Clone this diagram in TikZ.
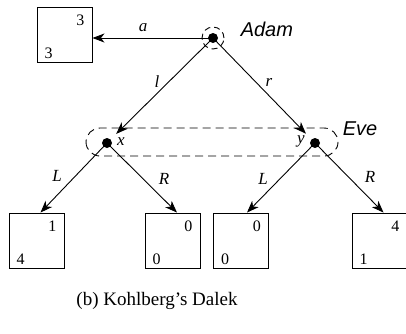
\documentclass[tikz,border=0pt]{standalone}
\usepackage{fontspec}
\setmainfont{Liberation Serif}
\newfontfamily\handfont{Liberation Sans}
\usetikzlibrary{arrows.meta}
\begin{document}
\begin{tikzpicture}[x=1pt,y=-1pt,
  every path/.style={line width=0.9pt},
  payoff/.style={draw,line width=0.9pt,minimum width=55pt,minimum height=55pt,inner sep=0pt},
  dotnode/.style={circle,fill=black,minimum size=10pt,inner sep=0pt},
  edge/.style={-{Stealth[length=12pt,width=9pt,inset=3.5pt]},line width=0.9pt},
  infoset/.style={line width=0.9pt,dash pattern=on 8pt off 5pt},
  lab/.style={font=\fontsize{17}{19}\selectfont\itshape},
  num/.style={font=\fontsize{16}{18}\selectfont},
  pl/.style={font=\fontsize{20}{22}\selectfont\handfont\itshape}]
\useasboundingbox (0,0) rectangle (406,333);
% nodes
\node[dotnode] (adam) at (213,38) {};
\node[dotnode] (x) at (107,143) {};
\node[dotnode] (y) at (315,143) {};
\node[payoff] (b0) at (64.5,35) {};
\node[payoff] (b1) at (36.5,240.5) {};
\node[payoff] (b2) at (172.5,240.5) {};
\node[payoff] (b3) at (241,240.5) {};
\node[payoff] (b4) at (379.5,240.5) {};
% payoffs
\node[num] (b0t) at ([xshift=-12pt,yshift=-13pt]b0.north east) {3};
\node[num] (b0b) at ([xshift=12pt,yshift=10pt]b0.south west) {3};
\node[num] (b1t) at ([xshift=-12pt,yshift=-14pt]b1.north east) {1};
\node[num] (b1b) at ([xshift=12pt,yshift=9pt]b1.south west) {4};
\node[num] (b2t) at ([xshift=-12pt,yshift=-14pt]b2.north east) {0};
\node[num] (b2b) at ([xshift=12pt,yshift=9pt]b2.south west) {0};
\node[num] (b3t) at ([xshift=-12pt,yshift=-14pt]b3.north east) {0};
\node[num] (b3b) at ([xshift=12pt,yshift=9pt]b3.south west) {0};
\node[num] (b4t) at ([xshift=-12pt,yshift=-14pt]b4.north east) {4};
\node[num] (b4b) at ([xshift=12pt,yshift=9pt]b4.south west) {1};
% information sets
\draw[infoset,dash pattern=on 6pt off 4pt] (adam) circle (11pt);
\draw[infoset,rounded corners=14pt] (86,128) rectangle (338,156);
% edges
\draw[edge] (adam.center) -- (b0.east |- adam);
\draw[edge,shorten >=7.5pt] (adam.center) -- (x);
\draw[edge,shorten >=7.5pt] (adam.center) -- (y);
\draw[edge] (x.center) -- ([xshift=4pt]b1.north);
\draw[edge] (x.center) -- ([xshift=4.5pt]b2.north);
\draw[edge] (y.center) -- ([xshift=6pt]b3.north);
\draw[edge] (y.center) -- ([xshift=4pt]b4.north);
% labels
\node[lab] (la) at (143,28) {a};
\node[lab] (ll) at (157,82) {l};
\node[lab] (lr) at (269,82) {r};
\node[lab] (lx) at (121,142) {x};
\node[lab] (ly) at (301,141) {y};
\node[lab] (lL1) at (57,176) {L};
\node[lab] (lR1) at (164,179) {R};
\node[lab] (lL2) at (263,179) {L};
\node[lab] (lR2) at (370,177) {R};
\node[pl,anchor=west] (padam) at (237,29) {Adam};
\node[pl,anchor=west] (peve) at (339,129) {Eve};
\node[font=\fontsize{19}{21}\selectfont] (cap) at (157,301) {(b) Kohlberg’s Dalek};
\end{tikzpicture}
\end{document}
